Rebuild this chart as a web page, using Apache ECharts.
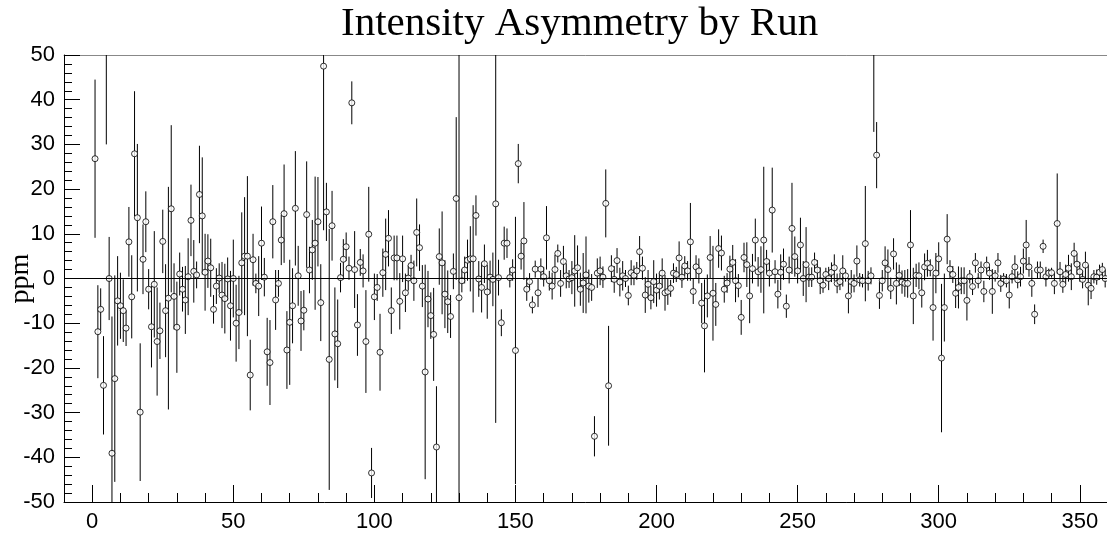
<!DOCTYPE html>
<html><head><meta charset="utf-8">
<script src="https://cdn.jsdelivr.net/npm/echarts@6/dist/echarts.min.js"></script>
<style>html,body{margin:0;padding:0;background:#fff}#c{width:1107px;height:535px}</style>
</head><body><div id="c"></div>
<script>
// Run numbers
const runs = [
1,2,3,4,5,6,7,8,9,10,11,12,13,14,15,16,17,18,19,20,21,22,23,24,25,26,27,28,29,30,31,32,33,34,35,36,37,38,39,40,41,42,43,44,45,46,47,48,49,50,
51,52,53,54,55,56,57,58,59,60,61,62,63,64,65,66,67,68,69,70,71,72,73,74,75,76,77,78,79,80,81,82,83,84,85,86,87,88,89,90,91,92,93,94,95,96,97,98,99,100,
101,102,103,104,105,106,107,108,109,110,111,112,113,114,115,116,117,118,119,120,121,122,123,124,125,126,127,128,129,130,131,132,133,134,135,136,137,138,139,140,141,142,143,144,145,146,147,148,149,150,
151,152,153,154,155,156,157,158,159,160,161,162,163,164,165,166,167,168,169,170,171,172,173,174,175,176,177,178,179,180,181,182,183,184,185,186,187,188,189,190,191,192,193,194,195,196,197,198,199,200,
201,202,203,204,205,206,207,208,209,210,211,212,213,214,215,216,217,218,219,220,221,222,223,224,225,226,227,228,229,230,231,232,233,234,235,236,237,238,239,240,241,242,243,244,245,246,247,248,249,250,
251,252,253,254,255,256,257,258,259,260,261,262,263,264,265,266,267,268,269,270,271,272,273,274,275,276,277,278,279,280,281,282,283,284,285,286,287,288,289,290,291,292,293,294,295,296,297,298,299,300,
301,302,303,304,305,306,307,308,309,310,311,312,313,314,315,316,317,318,319,320,321,322,323,324,325,326,327,328,329,330,331,332,333,334,335,336,337,338,339,340,341,342,343,344,345,346,347,348,349,350,
351,352,353,354,355,356,357,358,359];

// Asymmetry (ppm) per run
const asym = [
26.8,-11.9,-6.9,-23.9,56,0.0,-39.1,-22.4,-5.0,-6.1,-7.2,-11.1,8.2,-4.1,27.9,13.6,-29.9,4.3,12.7,-2.4,-10.8,-1.3,-14.1,-11.7,8.3,-7.2,-4.4,15.6,-4.0,-10.9,1.0,-2.4,-4.8,0.4,13.0,1.6,0.8,18.8,14.0,1.4,3.9,2.4,-6.9,-1.7,0.1,-3.7,-4.5,-0.1,-6.1,0.0,
-10.0,-7.6,3.5,5.0,5.0,-21.6,4.2,-1.1,-1.7,7.9,0.3,-16.4,-18.8,12.7,-4.8,-1.1,8.6,14.5,-16.0,-9.8,-6.1,15.7,0.6,-9.5,-7.1,14.3,1.9,6.4,7.9,12.7,-5.4,47.5,14.9,-18.1,11.8,-12.4,-14.6,0.2,4.3,7.1,2.3,39.3,2.0,-10.4,3.6,1.7,-14.1,9.9,-43.5,-4.1,
-2.0,-16.5,1.3,5.4,9.0,-7.2,4.6,4.6,-5.1,4.4,-3.2,0.1,2.9,-0.5,10.3,6.9,-1.7,-20.9,-4.6,-8.3,-12.5,-37.7,4.9,3.5,-3.5,-5.2,-8.5,1.6,17.9,-4.3,-0.5,1.9,4.1,4.4,4.4,14.1,-0.1,-2.0,3.3,-3.0,0.3,-0.2,16.7,0.2,-9.9,7.9,7.9,0.2,1.9,-16.1,
25.7,5.0,8.4,-2.4,-0.7,-5.9,2.1,-3.2,2.1,0.4,9.1,-0.5,-1.7,2.0,5.6,-1.1,3.8,0.6,-0.1,0.2,1.7,2.4,-2.4,-1.0,0.8,-1.7,-2.0,-35.3,1.2,1.7,0.3,16.8,-24.0,2.2,-0.2,4.0,-0.8,0.6,0.0,-3.8,1.3,0.7,1.7,6.0,2.3,-3.7,-1.3,-4.3,-0.7,-2.6,
-1.7,1.2,-3.2,-2.9,-2.2,1.2,0.9,4.6,0.3,2.8,1.7,8.2,-2.9,2.6,1.7,-5.5,-10.6,-3.9,4.7,-3.3,-5.8,6.7,5.7,-2.4,-1.0,2.1,3.6,-0.5,-1.6,-8.7,4.7,3.1,-3.9,2.2,8.6,1.5,2.0,8.6,3.8,1.2,15.3,1.5,-3.5,1.4,3.2,-6.2,1.9,11.2,4.9,1.7,
7.5,0.0,3.1,0.3,0.3,3.6,1.9,-0.5,-1.5,0.9,0.0,1.4,2.4,-1.1,-0.7,1.7,0.6,-3.9,-0.7,-1.1,3.9,-0.3,-0.5,7.8,-0.5,0.6,56,27.6,-3.8,-0.5,3.5,2.0,-2.2,5.5,-1.1,0.7,-0.8,-1.1,-1.1,7.5,-3.9,0.7,0.6,-3.2,2.6,3.4,2.4,-6.5,1.2,4.4,
-17.8,-6.5,8.8,2.1,0.9,-3.3,-2.0,-0.5,-0.5,-4.9,0.4,-1.8,3.5,-0.5,1.9,-2.9,3.0,1.2,-2.9,0.6,3.5,-1.1,-0.1,-0.5,-3.7,0.4,2.6,-0.3,0.4,3.9,7.5,2.6,-1.1,-8.0,1.9,1.9,7.2,0.4,1.2,1.3,-1.1,12.3,1.5,-1.3,0.9,2.3,0.4,5.6,3.2,1.5,
-0.2,3.0,-1.5,-2.2,0.4,0.3,1.4,2.0,0.0];

// Error (ppm) per run
const asymErr = [
17.7,10.4,4.7,11.0,26,9.3,30.6,23.1,10.0,7.4,7.0,4.0,7.8,9.3,14.0,16.5,15.4,7.8,6.8,4.5,9.1,11.9,12.1,6.3,7.1,10.4,24.9,18.7,7.4,10.2,4.8,5.0,7.6,8.6,8.0,7.0,3.0,10.9,13.1,8.6,6.0,6.5,3.2,4.0,3.3,7.4,7.8,4.8,7.8,8.7,
8.6,8.2,11.3,13.2,17.9,7.9,5.8,2.2,6.7,8.2,4.3,7.6,9.5,8.2,6.7,3.0,5.6,11.0,8.7,14.0,8.4,12.8,6.7,6.7,4.5,11.9,5.2,6.7,14.9,10.0,8.6,36.7,6.5,29.2,7.8,10.4,9.9,3.3,4.5,3.2,2.6,4.8,8.6,6.9,3.0,3.7,11.5,10.6,5.6,5.2,
3.0,8.6,5.4,8.0,6.3,5.2,5.0,5.0,6.3,5.2,4.3,2.8,2.4,4.5,7.6,5.2,4.7,24.0,6.3,5.2,10.4,13.6,6.3,11.5,7.6,7.0,4.8,4.0,18.2,60,2.6,3.0,4.6,7.3,12.0,4.5,4.0,5.6,4.3,6.0,3.7,6.0,49,4.0,3.0,3.7,3.3,2.2,2.4,29.9,
4.4,3.0,8.7,2.6,1.9,1.9,1.9,3.2,2.4,2.2,7.1,2.2,3.0,3.3,2.0,3.0,3.5,2.8,2.0,3.7,8.0,5.0,3.7,6.7,8.6,3.7,3.0,4.5,3.3,3.2,2.4,7.6,13.4,3.0,3.0,2.8,3.2,3.3,1.9,2.2,2.8,2.2,2.0,3.5,2.6,4.0,3.2,2.6,4.8,3.7,
3.0,3.3,4.0,3.0,1.9,2.2,1.7,3.7,2.4,2.2,2.2,8.7,2.8,2.6,2.8,4.5,10.4,4.8,4.8,10.6,4.8,4.3,3.9,3.0,2.2,3.0,3.9,4.8,2.6,3.9,3.3,5.0,6.1,3.3,4.8,3.3,5.2,16.4,2.6,3.0,9.5,2.6,3.2,4.0,3.5,2.6,3.0,10.2,4.5,2.8,
6.1,3.9,8.4,2.2,2.2,2.2,2.2,3.0,1.7,1.5,2.6,2.2,3.0,2.2,1.9,3.5,1.3,3.9,2.6,2.0,3.5,1.5,1.5,12.9,2.2,1.9,23.2,7.4,3.0,2.4,3.7,4.5,2.4,3.5,4.7,2.4,2.6,3.0,3.2,7.8,6.3,2.6,3.0,3.3,3.0,3.0,1.9,7.4,4.5,3.7,
16.6,7.6,5.6,2.0,1.9,3.3,4.7,3.0,3.0,4.5,1.5,1.9,2.2,1.7,1.9,2.4,1.9,1.5,5.0,1.3,2.2,1.9,1.3,1.5,3.0,1.5,2.6,1.9,2.2,2.8,5.6,2.2,3.0,2.2,1.9,1.9,1.5,2.2,1.0,1.1,2.4,11.2,2.2,1.9,2.2,3.0,3.0,2.4,2.4,2.2,
2.0,3.0,4.5,2.4,1.5,1.7,1.7,1.5,2.0];

// Tick label values
const xTickLabels = [0, 50, 100, 150, 200, 250, 300, 350];
const xMinorTicks = [-10, 10, 20, 30, 40, 60, 70, 80, 90, 110, 120, 130, 140, 160, 170, 180, 190, 210, 220, 230, 240, 260, 270, 280, 290, 310, 320, 330, 340, 360];

const pts = runs.map((r, i) => [r, asym[i], asymErr[i]]);

const chart = echarts.init(document.getElementById('c'), null, {renderer: 'canvas'});
const axisFont = {fontFamily: 'Liberation Sans, Arial, sans-serif', fontSize: 22, color: '#000'};
chart.setOption({
  animation: false,
  backgroundColor: '#fff',
  title: {
    text: 'Intensity Asymmetry by Run',
    left: 341, top: 4, padding: 0,
    textStyle: {fontFamily: 'Liberation Serif, Times New Roman, serif', fontSize: 41, fontWeight: 'normal', color: '#000'}
  },
  grid: {left: 64, top: 55, width: 1044, height: 447, containLabel: false, outerBoundsMode: 'none'},
  xAxis: [
    {
      type: 'value', min: -10, max: 360, position: 'bottom',
      axisLine: {onZero: false, lineStyle: {color: '#000', width: 1}},
      axisTick: {show: true, inside: true, length: 9, customValues: xMinorTicks, lineStyle: {color: '#000'}},
      axisLabel: Object.assign({customValues: xTickLabels, margin: 9}, axisFont),
      splitLine: {show: false}
    },
    {
      type: 'value', min: -10, max: 360, position: 'bottom',
      axisLine: {show: false, onZero: false},
      axisTick: {show: true, inside: true, length: 17, customValues: xTickLabels, lineStyle: {color: '#000'}},
      axisLabel: {show: false}, splitLine: {show: false}
    },
    {
      type: 'value', min: -10, max: 360, position: 'top',
      axisLine: {show: true, onZero: false, lineStyle: {color: '#888', width: 1}},
      axisTick: {show: false}, axisLabel: {show: false}, splitLine: {show: false}
    }
  ],
  yAxis: {
    type: 'value', min: -50, max: 50, interval: 10,
    name: 'ppm', nameLocation: 'middle', nameGap: 29, nameRotate: 90, nameMoveOverlap: false,
    nameTextStyle: {fontFamily: 'Liberation Serif, Times New Roman, serif', fontSize: 28, color: '#000'},
    axisLine: {onZero: false, lineStyle: {color: '#000', width: 1}},
    axisTick: {inside: true, length: 16, lineStyle: {color: '#000'}},
    minorTick: {show: true, splitNumber: 5, length: 8, lineStyle: {color: '#000'}},
    axisLabel: Object.assign({margin: 9}, axisFont),
    splitLine: {show: false}, minorSplitLine: {show: false}
  },
  series: [
    {
      type: 'custom', xAxisIndex: 0, yAxisIndex: 0, data: pts, silent: true, z: 2,
      encode: {x: 0, y: 1},
      renderItem: function (params, api) {
        const x = api.value(0), v = api.value(1), e = api.value(2);
        const p1 = api.coord([x, v + e]);
        const p2 = api.coord([x, v - e]);
        const cs = params.coordSys;
        const clamp = y => Math.max(cs.y, Math.min(cs.y + cs.height, y));
        return {type: 'line', shape: {x1: p1[0], y1: clamp(p1[1]), x2: p2[0], y2: clamp(p2[1])},
                style: {stroke: '#000', lineWidth: 1}};
      },
      markLine: {
        silent: true, symbol: 'none', label: {show: false},
        lineStyle: {color: '#000', width: 1, type: 'solid'},
        data: [{yAxis: 0}]
      }
    },
    {
      type: 'scatter', xAxisIndex: 0, yAxisIndex: 0, data: pts, silent: true, z: 3, clip: true,
      encode: {x: 0, y: 1},
      symbol: 'circle', symbolSize: 6,
      itemStyle: {color: '#fff', borderColor: '#000', borderWidth: 1}
    }
  ]
});
</script>
</body></html>
